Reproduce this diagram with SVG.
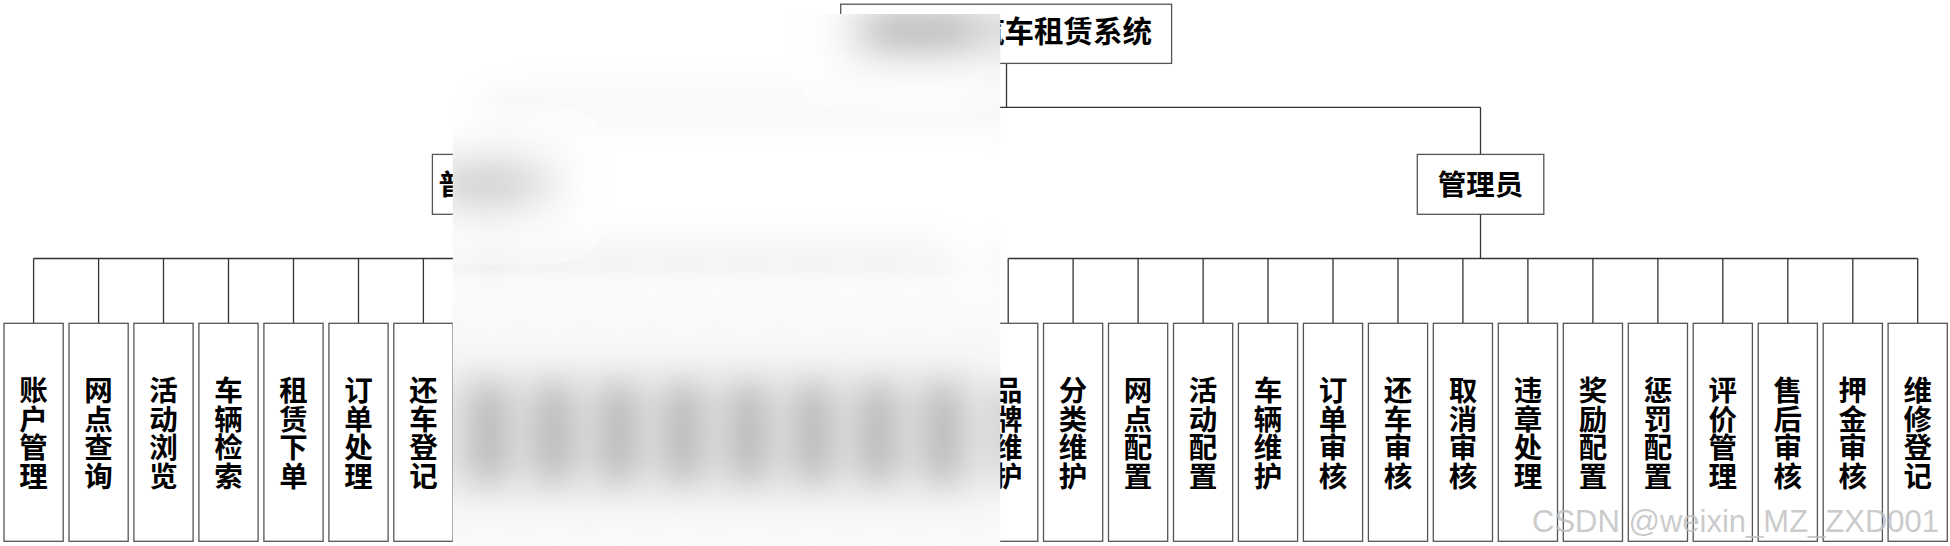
<svg xmlns="http://www.w3.org/2000/svg" xmlns:xlink="http://www.w3.org/1999/xlink" width="1950" height="546" viewBox="0 0 1950 546">
<style>
.box{fill:#fff;stroke:#555;stroke-width:1.3}
.conn{stroke:#333;stroke-width:1.3;fill:none}
.lbl{font-family:"Noto Sans CJK SC","Noto Sans CJK TC",sans-serif;font-size:28.5px;font-weight:bold;text-anchor:middle;fill:#000}
.v{writing-mode:vertical-rl;letter-spacing:0}
.title{font-family:"Noto Sans CJK SC","Noto Sans CJK TC",sans-serif;font-size:29.5px;font-weight:bold;text-anchor:end;fill:#000}
.blob{fill:#000;opacity:0.55}
.wm{font-family:"Liberation Sans",Arial,sans-serif;font-size:31px;fill:#bdbdbd;fill-opacity:0.8}
</style>
<defs>
<filter id="bf" filterUnits="userSpaceOnUse" x="380" y="-80" width="720" height="720"><feGaussianBlur stdDeviation="21"/></filter>
<clipPath id="bc"><rect x="452.7" y="14" width="547.6" height="532"/></clipPath>
</defs>
<rect width="1950" height="546" fill="#fff"/>
<g id="diagram">
<g id="connectors">
<path class="conn" d="M1006.5 63.4V107.3M495.6 107.3H1480.5M495.6 107.3V154.4M1480.5 107.3V154.4M495.6 214.3V258.5M1480.5 214.3V258.5M33.6 258.5H943.2M1008.2 258.5H1917.7"/>
<path class="conn" d="M33.6 258.5V323.3M98.6 258.5V323.3M163.5 258.5V323.3M228.5 258.5V323.3M293.5 258.5V323.3M358.5 258.5V323.3M423.4 258.5V323.3M488.4 258.5V323.3M553.4 258.5V323.3M618.3 258.5V323.3M683.3 258.5V323.3M748.3 258.5V323.3M813.2 258.5V323.3M878.2 258.5V323.3M943.2 258.5V323.3"/>
<path class="conn" d="M1008.2 258.5V323.3M1073.1 258.5V323.3M1138.1 258.5V323.3M1203.1 258.5V323.3M1268 258.5V323.3M1333 258.5V323.3M1398 258.5V323.3M1462.9 258.5V323.3M1527.9 258.5V323.3M1592.9 258.5V323.3M1657.9 258.5V323.3M1722.8 258.5V323.3M1787.8 258.5V323.3M1852.8 258.5V323.3M1917.7 258.5V323.3"/>
</g>
<g id="root"><rect class="box" x="840.7" y="4.2" width="330.9" height="59.2"/><text class="title" x="1152" y="42">汽车租赁系统</text></g>
<g id="user"><rect class="box" x="432.4" y="154.4" width="126.5" height="59.9"/><text class="lbl" x="495.6" y="195">普通用户</text></g>
<g id="admin"><rect class="box" x="1417.3" y="154.4" width="126.5" height="59.9"/><text class="lbl" x="1480.5" y="195">管理员</text></g>
<g id="n0"><rect class="box" x="4" y="323.3" width="59.2" height="218"/><text class="lbl v" x="33.6" y="433">账户管理</text></g>
<g id="n1"><rect class="box" x="69" y="323.3" width="59.2" height="218"/><text class="lbl v" x="98.6" y="433">网点查询</text></g>
<g id="n2"><rect class="box" x="133.9" y="323.3" width="59.2" height="218"/><text class="lbl v" x="163.5" y="433">活动浏览</text></g>
<g id="n3"><rect class="box" x="198.9" y="323.3" width="59.2" height="218"/><text class="lbl v" x="228.5" y="433">车辆检索</text></g>
<g id="n4"><rect class="box" x="263.9" y="323.3" width="59.2" height="218"/><text class="lbl v" x="293.5" y="433">租赁下单</text></g>
<g id="n5"><rect class="box" x="328.9" y="323.3" width="59.2" height="218"/><text class="lbl v" x="358.5" y="433">订单处理</text></g>
<g id="n6"><rect class="box" x="393.8" y="323.3" width="59.2" height="218"/><text class="lbl v" x="423.4" y="433">还车登记</text></g>
<g id="n7"><rect class="box" x="458.8" y="323.3" width="59.2" height="218"/></g>
<g id="n8"><rect class="box" x="523.8" y="323.3" width="59.2" height="218"/></g>
<g id="n9"><rect class="box" x="588.7" y="323.3" width="59.2" height="218"/></g>
<g id="n10"><rect class="box" x="653.7" y="323.3" width="59.2" height="218"/></g>
<g id="n11"><rect class="box" x="718.7" y="323.3" width="59.2" height="218"/></g>
<g id="n12"><rect class="box" x="783.6" y="323.3" width="59.2" height="218"/></g>
<g id="n13"><rect class="box" x="848.6" y="323.3" width="59.2" height="218"/></g>
<g id="n14"><rect class="box" x="913.6" y="323.3" width="59.2" height="218"/></g>
<g id="n15"><rect class="box" x="978.6" y="323.3" width="59.2" height="218"/><text class="lbl v" x="1008.2" y="433">品牌维护</text></g>
<g id="n16"><rect class="box" x="1043.5" y="323.3" width="59.2" height="218"/><text class="lbl v" x="1073.1" y="433">分类维护</text></g>
<g id="n17"><rect class="box" x="1108.5" y="323.3" width="59.2" height="218"/><text class="lbl v" x="1138.1" y="433">网点配置</text></g>
<g id="n18"><rect class="box" x="1173.5" y="323.3" width="59.2" height="218"/><text class="lbl v" x="1203.1" y="433">活动配置</text></g>
<g id="n19"><rect class="box" x="1238.4" y="323.3" width="59.2" height="218"/><text class="lbl v" x="1268" y="433">车辆维护</text></g>
<g id="n20"><rect class="box" x="1303.4" y="323.3" width="59.2" height="218"/><text class="lbl v" x="1333" y="433">订单审核</text></g>
<g id="n21"><rect class="box" x="1368.4" y="323.3" width="59.2" height="218"/><text class="lbl v" x="1398" y="433">还车审核</text></g>
<g id="n22"><rect class="box" x="1433.3" y="323.3" width="59.2" height="218"/><text class="lbl v" x="1462.9" y="433">取消审核</text></g>
<g id="n23"><rect class="box" x="1498.3" y="323.3" width="59.2" height="218"/><text class="lbl v" x="1527.9" y="433">违章处理</text></g>
<g id="n24"><rect class="box" x="1563.3" y="323.3" width="59.2" height="218"/><text class="lbl v" x="1592.9" y="433">奖励配置</text></g>
<g id="n25"><rect class="box" x="1628.3" y="323.3" width="59.2" height="218"/><text class="lbl v" x="1657.9" y="433">惩罚配置</text></g>
<g id="n26"><rect class="box" x="1693.2" y="323.3" width="59.2" height="218"/><text class="lbl v" x="1722.8" y="433">评价管理</text></g>
<g id="n27"><rect class="box" x="1758.2" y="323.3" width="59.2" height="218"/><text class="lbl v" x="1787.8" y="433">售后审核</text></g>
<g id="n28"><rect class="box" x="1823.2" y="323.3" width="59.2" height="218"/><text class="lbl v" x="1852.8" y="433">押金审核</text></g>
<g id="n29"><rect class="box" x="1888.1" y="323.3" width="59.2" height="218"/><text class="lbl v" x="1917.7" y="433">维修登记</text></g>
</g>
<g id="blurred" clip-path="url(#bc)">
<rect x="452.7" y="14" width="547.6" height="532" fill="#fff"/>
<g filter="url(#bf)">
<use xlink:href="#diagram" href="#diagram"/>
<rect class="blob" x="861" y="18" width="114" height="26"/>
<rect class="blob" x="474.4" y="377" width="28" height="112"/>
<rect class="blob" x="539.4" y="377" width="28" height="112"/>
<rect class="blob" x="604.3" y="377" width="28" height="112"/>
<rect class="blob" x="669.3" y="377" width="28" height="112"/>
<rect class="blob" x="734.3" y="377" width="28" height="112"/>
<rect class="blob" x="799.2" y="377" width="28" height="112"/>
<rect class="blob" x="864.2" y="377" width="28" height="112"/>
<rect class="blob" x="929.2" y="377" width="28" height="112"/>
</g>
</g>
<text class="wm" x="1532" y="532">CSDN @weixin_MZ_ZXD001</text>
</svg>
